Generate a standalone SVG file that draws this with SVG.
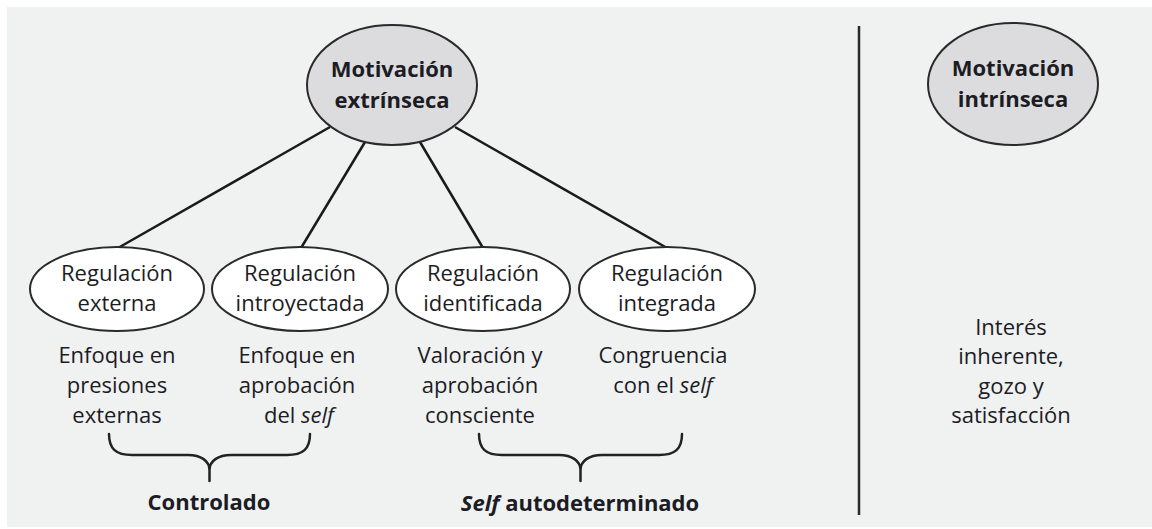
<svg xmlns="http://www.w3.org/2000/svg" width="1152" height="529" viewBox="0 0 1152 529">
  <style>
    .t { font-family: "Open Sans", "Noto Sans", "Liberation Sans", sans-serif; font-size: 22px; fill: #1c1c24; text-anchor: middle; }
    .b { font-weight: bold; }
    .i { font-style: italic; }
    .main { fill: #dcdcde; stroke: #2a2a2a; stroke-width: 2; }
    .sub { fill: #ffffff; stroke: #2a2a2a; stroke-width: 2; }
    .edge { stroke: #1a1a1a; stroke-width: 2.5; fill: none; }
    .brace { stroke: #222222; stroke-width: 2.5; fill: none; stroke-linecap: round; }
  </style>
  <rect x="7" y="7" width="1145" height="520" fill="#f0f1f1"/>

  <g id="connectors">
    <line class="edge" x1="330" y1="127" x2="118" y2="248"/>
    <line class="edge" x1="365" y1="142" x2="301" y2="248"/>
    <line class="edge" x1="420" y1="142" x2="483" y2="248"/>
    <line class="edge" x1="455" y1="127" x2="667" y2="248"/>
  </g>

  <g id="motivacion-extrinseca">
    <ellipse class="main" cx="392" cy="85" rx="85" ry="60"/>
    <text class="t b" x="392" y="77">Motivación</text>
    <text class="t b" x="392" y="108">extrínseca</text>
  </g>

  <g id="motivacion-intrinseca">
    <ellipse class="main" cx="1013" cy="84" rx="85" ry="61"/>
    <text class="t b" x="1013" y="76">Motivación</text>
    <text class="t b" x="1013" y="107">intrínseca</text>
  </g>

  <g id="regulacion-externa">
    <ellipse class="sub" cx="117" cy="289" rx="87" ry="42"/>
    <text class="t" x="117" y="281">Regulación</text>
    <text class="t" x="117" y="311">externa</text>
  </g>
  <g id="regulacion-introyectada">
    <ellipse class="sub" cx="300" cy="289" rx="88" ry="42"/>
    <text class="t" x="300" y="281">Regulación</text>
    <text class="t" x="300" y="311">introyectada</text>
  </g>
  <g id="regulacion-identificada">
    <ellipse class="sub" cx="483" cy="289" rx="87" ry="42"/>
    <text class="t" x="483" y="281">Regulación</text>
    <text class="t" x="483" y="311">identificada</text>
  </g>
  <g id="regulacion-integrada">
    <ellipse class="sub" cx="667" cy="289" rx="88" ry="42"/>
    <text class="t" x="667" y="281">Regulación</text>
    <text class="t" x="667" y="311">integrada</text>
  </g>

  <g id="desc-externa">
    <text class="t" x="117" y="363">Enfoque en</text>
    <text class="t" x="117" y="393">presiones</text>
    <text class="t" x="117" y="423">externas</text>
  </g>
  <g id="desc-introyectada">
    <text class="t" x="297" y="363">Enfoque en</text>
    <text class="t" x="297" y="393">aprobación</text>
    <text class="t" x="299" y="423">del <tspan class="i">self</tspan></text>
  </g>
  <g id="desc-identificada">
    <text class="t" x="480" y="363">Valoración y</text>
    <text class="t" x="480" y="393">aprobación</text>
    <text class="t" x="480" y="423">consciente</text>
  </g>
  <g id="desc-integrada">
    <text class="t" x="663" y="363">Congruencia</text>
    <text class="t" x="663" y="393">con el <tspan class="i">self</tspan></text>
  </g>

  <g id="desc-intrinseca">
    <text class="t" x="1011" y="335">Interés</text>
    <text class="t" x="1011" y="364">inherente,</text>
    <text class="t" x="1011" y="394">gozo y</text>
    <text class="t" x="1011" y="423">satisfacción</text>
  </g>

  <g id="divider">
    <line x1="859" y1="26" x2="859" y2="515" stroke="#2a2a2a" stroke-width="2.5"/>
  </g>

  <g id="brace-controlado">
    <path class="brace" d="M109,434 C109,449 116,455 132,455 L188,455 C201,455 209.5,461 209.5,470 L209.5,481 M310,434 C310,449 303,455 287,455 L231,455 C218,455 209.5,461 209.5,470"/>
    <text class="t b" x="209" y="510">Controlado</text>
  </g>

  <g id="brace-autodeterminado">
    <path class="brace" d="M479,434 C479,449 486,455 502,455 L559,455 C572,455 580.5,461 580.5,470 L580.5,481 M682,434 C682,449 675,455 659,455 L602,455 C589,455 580.5,461 580.5,470"/>
    <text class="t b" x="580" y="511"><tspan class="i">Self</tspan> autodeterminado</text>
  </g>
</svg>
